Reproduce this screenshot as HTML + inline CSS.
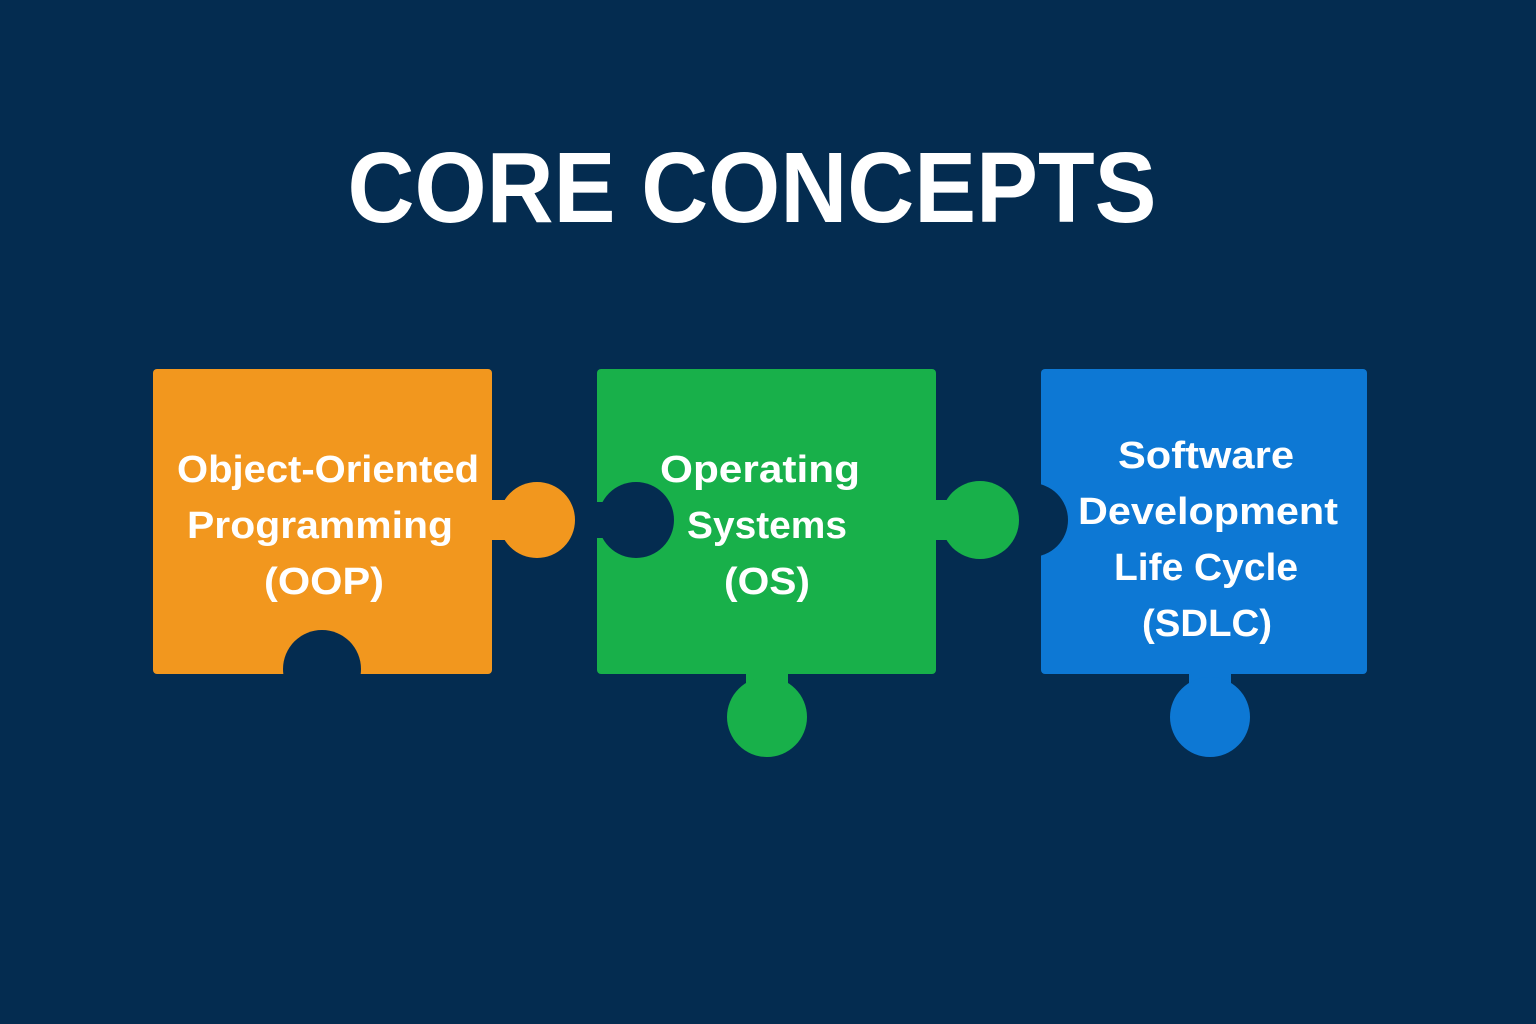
<!DOCTYPE html>
<html>
<head>
<meta charset="utf-8">
<style>
  html,body{margin:0;padding:0;background:#042C50;}
  svg{display:block;}
  text{font-family:"Liberation Sans","DejaVu Sans",sans-serif;font-weight:bold;fill:#fff;}
</style>
</head>
<body>
<svg width="1536" height="1024" viewBox="0 0 1536 1024">
  <defs>
    <clipPath id="clipO"><rect x="153" y="369" width="339" height="306"/></clipPath>
    <clipPath id="clipG"><rect x="597" y="369" width="339" height="305"/></clipPath>
    <clipPath id="clipB"><rect x="1041" y="369" width="326" height="305"/></clipPath>
  </defs>
  <rect x="0" y="0" width="1536" height="1024" fill="#042C50"/>
  <text x="752" y="222" text-anchor="middle" font-size="100" textLength="809" lengthAdjust="spacingAndGlyphs">CORE CONCEPTS</text>

  <g>
    <rect x="153" y="369" width="339" height="305" rx="4" fill="#F2971E"/>
    <rect x="488" y="500" width="24" height="40" fill="#F2971E"/>
    <circle cx="537" cy="520" r="38" fill="#F2971E"/>
    <g clip-path="url(#clipO)">
      <circle cx="322" cy="669" r="39" fill="#042C50"/>
    </g>
    <text x="328" y="482" text-anchor="middle" font-size="38" textLength="302" lengthAdjust="spacingAndGlyphs">Object-Oriented</text>
    <text x="320" y="538" text-anchor="middle" font-size="38" textLength="266" lengthAdjust="spacingAndGlyphs">Programming</text>
    <text x="324" y="594" text-anchor="middle" font-size="38" textLength="120" lengthAdjust="spacingAndGlyphs">(OOP)</text>
  </g>

  <g>
    <rect x="597" y="369" width="339" height="305" rx="4" fill="#18B04A"/>
    <g clip-path="url(#clipG)">
      <circle cx="636" cy="520" r="38" fill="#042C50"/>
      <rect x="594" y="502" width="22" height="36" fill="#042C50"/>
    </g>
    <rect x="932" y="500" width="24" height="40" fill="#18B04A"/>
    <circle cx="980" cy="520" r="39" fill="#18B04A"/>
    <rect x="746" y="670" width="42" height="22" fill="#18B04A"/>
    <circle cx="767" cy="717" r="40" fill="#18B04A"/>
    <text x="760" y="482" text-anchor="middle" font-size="38" textLength="200" lengthAdjust="spacingAndGlyphs">Operating</text>
    <text x="767" y="538" text-anchor="middle" font-size="38" textLength="160" lengthAdjust="spacingAndGlyphs">Systems</text>
    <text x="767" y="594" text-anchor="middle" font-size="38" textLength="86" lengthAdjust="spacingAndGlyphs">(OS)</text>
  </g>

  <g>
    <rect x="1041" y="369" width="326" height="305" rx="4" fill="#0D78D4"/>
    <g clip-path="url(#clipB)">
      <circle cx="1031" cy="520" r="37" fill="#042C50"/>
    </g>
    <rect x="1189" y="670" width="42" height="22" fill="#0D78D4"/>
    <circle cx="1210" cy="717" r="40" fill="#0D78D4"/>
    <text x="1206" y="468" text-anchor="middle" font-size="38" textLength="176" lengthAdjust="spacingAndGlyphs">Software</text>
    <text x="1208" y="524" text-anchor="middle" font-size="38" textLength="260" lengthAdjust="spacingAndGlyphs">Development</text>
    <text x="1206" y="580" text-anchor="middle" font-size="38" textLength="184" lengthAdjust="spacingAndGlyphs">Life Cycle</text>
    <text x="1207" y="636" text-anchor="middle" font-size="38" textLength="130" lengthAdjust="spacingAndGlyphs">(SDLC)</text>
  </g>
</svg>
</body>
</html>
